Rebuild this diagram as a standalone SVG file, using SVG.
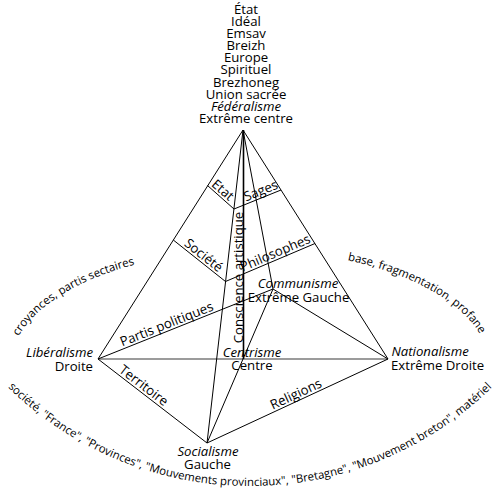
<svg xmlns="http://www.w3.org/2000/svg" width="500" height="494" viewBox="0 0 500 494">
<style>
text { font-family: "Open Sans", "Liberation Sans", sans-serif; font-size: 13.2px; fill: #000; }
.i { font-style: italic; }
.c { text-anchor: middle; }
.e { text-anchor: end; }
.arc { font-size: 11.4px; }
.ln { stroke: #000; stroke-width: 1; fill: none; }
.axis { stroke: #000; stroke-width: 1.6; fill: none; }
.diag { stroke: #7a7a7a; stroke-width: 1.6; fill: none; }
</style>
<defs>
<path id="ellTop" d="M10,367.5 A240,117.5 0 0 1 490,367.5"/>
<path id="arcBot" d="M-15.1,362.4 A346,346 0 0 0 515.1,362.4"/>
</defs>
<rect width="500" height="494" fill="#fff"/>

<g id="connectors">
<line class="diag" x1="98" y1="359" x2="388" y2="359"/>
<line class="ln" x1="243" y1="130" x2="98" y2="359"/>
<line class="ln" x1="243" y1="130" x2="388" y2="359"/>
<line class="ln" x1="243" y1="130" x2="207" y2="443"/>
<line class="ln" x1="243" y1="130" x2="273" y2="289"/>
<line class="axis" x1="243.5" y1="130" x2="243.5" y2="359"/>
<line class="ln" x1="98" y1="359" x2="207" y2="443"/>
<line class="ln" x1="207" y1="443" x2="388" y2="359"/>
<line class="ln" x1="388" y1="359" x2="273" y2="289"/>
<line class="ln" x1="273" y1="289" x2="98" y2="359"/>
<line class="ln" x1="207" y1="443" x2="273" y2="289"/>
<polyline class="ln" points="207.5,185.5 234,209 281,190"/>
<polyline class="ln" points="173.3,240 225.5,281.5 315,243.5"/>
</g>

<g id="edge-labels">
<text class="c" transform="translate(219.9,193.4) rotate(41)">Etat</text>
<text class="c" transform="translate(262.5,194.8) rotate(-22)">Sages</text>
<text class="c" transform="translate(200.8,258.8) rotate(38.3)">Société</text>
<text class="c" transform="translate(277,256.9) rotate(-23)">Philosophes</text>
<text class="c" transform="translate(168.3,328.2) rotate(-21.8)">Partis politiques</text>
<text class="c" transform="translate(141.1,389) rotate(37.6)">Territoire</text>
<text class="c" transform="translate(297.8,398.1) rotate(-24.9)">Religions</text>
<text class="c" transform="translate(242.5,277.5) rotate(-90)">Conscience artistique</text>
</g>

<g id="apex">
<text class="c" x="246" y="14">État</text>
<text class="c" x="246" y="26.1">Idéal</text>
<text class="c" x="246" y="38.2">Emsav</text>
<text class="c" x="246" y="50.2">Breizh</text>
<text class="c" x="246" y="62.3">Europe</text>
<text class="c" x="246" y="74.4">Spirituel</text>
<text class="c" x="246" y="86.5">Brezhoneg</text>
<text class="c" x="246" y="98.6">Union sacrée</text>
<text class="c i" x="246" y="110.6">Fédéralisme</text>
<text class="c" x="246" y="122.7">Extrême centre</text>
</g>

<g id="liberalisme">
<text class="e i" x="93" y="356.5">Libéralisme</text>
<text class="e" x="93" y="371">Droite</text>
</g>

<g id="nationalisme">
<text class="i" x="391.5" y="355.7">Nationalisme</text>
<text x="391" y="370">Extrême Droite</text>
</g>

<g id="centrisme">
<text class="c i" x="252" y="357">Centrisme</text>
<text class="c" x="252" y="370">Centre</text>
</g>

<g id="communisme">
<text class="c i" x="298" y="288">Communisme</text>
<text class="c" x="298.5" y="302">Extrême Gauche</text>
</g>

<g id="socialisme">
<text class="c i" x="208" y="456">Socialisme</text>
<text class="c" x="207.5" y="469">Gauche</text>
</g>

<g id="arcs">
<text class="arc c"><textPath href="#ellTop" startOffset="102.6">croyances, partis sectaires</textPath></text>
<text class="arc c"><textPath href="#ellTop" startOffset="464.9">base, fragmentation, profane</textPath></text>
<text class="arc c"><textPath href="#arcBot" startOffset="50%">société, "France", "Provinces", "Mouvements provinciaux", "Bretagne", "Mouvement breton", matériel</textPath></text>
</g>
</svg>
